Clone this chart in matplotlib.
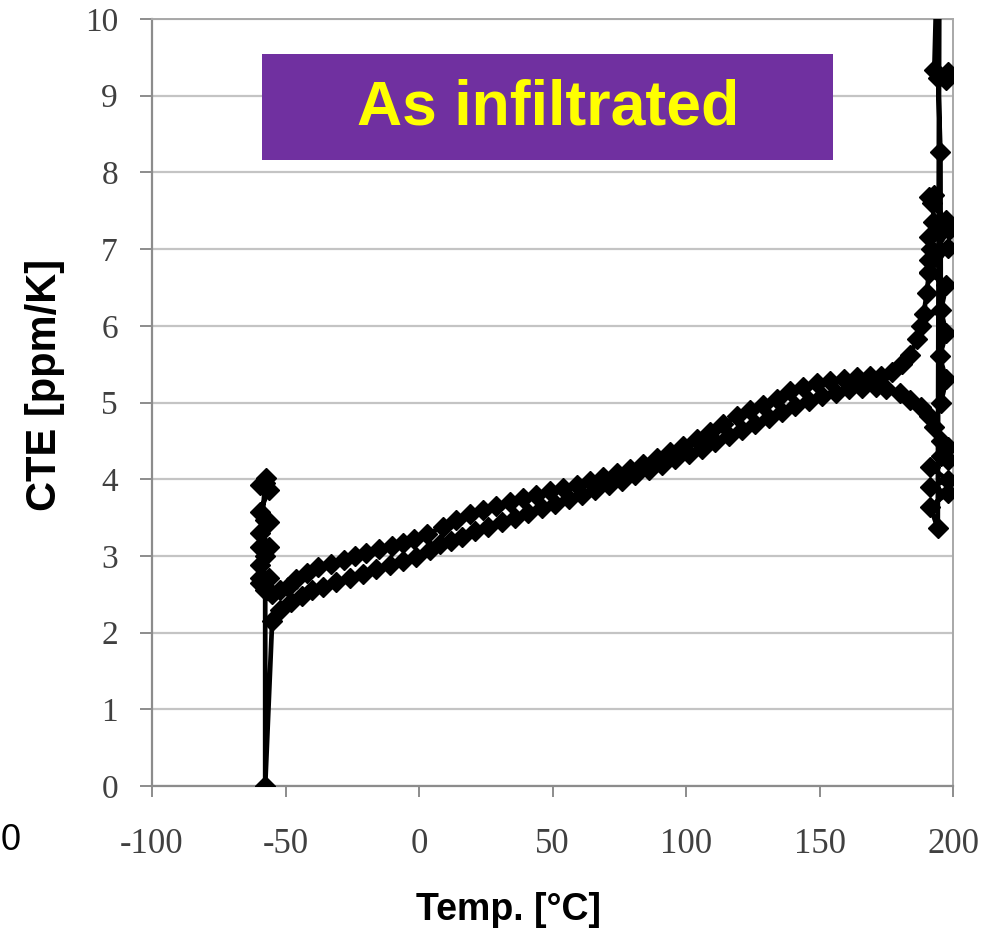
import matplotlib
matplotlib.use("Agg")
import matplotlib.pyplot as plt
from matplotlib.patches import Rectangle

plt.rcParams["axes.unicode_minus"] = False

# ---------------- data ----------------
# noisy start near -58 °C
spike_a_x = [-57.3, -59.6, -56.3, -59.6, -57.8, -56.3, -59.6, -57.8, -59.6, -56.3, -59.6, -57.6, -57.6]
spike_a_y = [4.02, 3.92, 3.86, 3.57, 3.47, 3.44, 3.30, 3.12, 2.88, 2.71, 2.65, 2.56, 0.0]

# heating branch (lower)
low_x = [-55, -52, -48, -44, -40, -36, -31, -26, -21, -16, -11, -6, -1, 4, 8, 12, 16, 21, 26, 31,
         36, 41, 46, 51, 56, 61, 66, 71, 76, 81, 86, 91, 96, 101, 106, 111, 116, 121, 126, 131,
         136, 141, 146, 151, 156, 161, 166, 171, 175, 180, 184, 188, 191, 193]
low_y = [2.15, 2.30, 2.40, 2.48, 2.55, 2.60, 2.66, 2.71, 2.77, 2.83, 2.88, 2.93, 2.99, 3.08, 3.15, 3.20, 3.25, 3.32, 3.38, 3.44,
         3.50, 3.56, 3.62, 3.68, 3.74, 3.80, 3.86, 3.92, 3.98, 4.05, 4.12, 4.19, 4.26, 4.33, 4.40, 4.48, 4.56, 4.64, 4.72, 4.80,
         4.88, 4.95, 5.02, 5.08, 5.13, 5.17, 5.19, 5.20, 5.17, 5.12, 5.03, 4.94, 4.82, 4.68]

# spike near 195 °C
spike_r_x = [195.5, 198.0, 195.5, 198.0, 191.5, 198.0, 191.5, 198.0, 191.5, 194.3, 195.0, 193.0, 198.0, 197.5, 194.4,
             195.3, 195.5, 197.5, 195.0, 197.5, 195.5, 197.5, 191.0, 198.0, 191.0, 198.5, 191.0, 197.5, 192.0, 191.0]
spike_r_y = [4.50, 4.42, 4.30, 4.25, 4.16, 3.99, 3.90, 3.82, 3.64, 3.36, 12.0, 9.33, 9.31, 9.20, 9.23,
             8.27, 5.00, 5.30, 5.60, 5.90, 6.20, 6.53, 6.69, 7.01, 6.86, 7.25, 7.16, 7.38, 7.60, 7.68]

# cooling branch (upper)
up_x = [193, 192.5, 191.7, 191, 190.2, 189, 188, 186.5, 184, 181, 177, 173, 169, 164, 159, 154, 149, 144, 139, 134,
        129, 124, 119, 114, 109, 104, 99, 94, 89, 84, 79, 74, 69, 64, 59, 54, 49, 44, 39, 34,
        29, 24, 19, 14, 9, 3, -2, -6, -10, -15, -20, -24, -28, -33, -38, -42, -46, -49, -52, -55]
up_y = [7.70, 7.35, 7.00, 6.70, 6.43, 6.15, 6.00, 5.83, 5.62, 5.50, 5.40, 5.35, 5.35, 5.33, 5.30, 5.28, 5.25, 5.20, 5.15, 5.05,
        4.97, 4.90, 4.82, 4.72, 4.62, 4.52, 4.43, 4.35, 4.27, 4.20, 4.13, 4.08, 4.03, 3.98, 3.93, 3.88, 3.84, 3.80, 3.75, 3.70,
        3.65, 3.60, 3.55, 3.47, 3.38, 3.28, 3.22, 3.17, 3.13, 3.09, 3.04, 3.00, 2.95, 2.90, 2.85, 2.78, 2.70, 2.60, 2.55, 2.50]

# end back near -58 °C
spike_b_x = [-57.0, -59.6, -57.6, -56.3, -59.6, -57.6]
spike_b_y = [2.56, 2.71, 3.00, 3.12, 3.12, 3.95]

x_ticks = [-100, -50, 0, 50, 100, 150, 200]
y_ticks = list(range(0, 11))

temp = spike_a_x + low_x + spike_r_x + up_x + spike_b_x
cte = spike_a_y + low_y + spike_r_y + up_y + spike_b_y

# ---------------- figure ----------------
W, H = 997, 936
fig = plt.figure(figsize=(W / 100, H / 100), dpi=100)
ax = fig.add_axes([152 / W, (H - 786) / H, 801 / W, 767 / H])

ax.plot(temp, cte, color="black", lw=3.4, marker="D", ms=10.5, mfc="black", mec="black",
        solid_joinstyle="round", zorder=3)

ax.set_xlim(-100, 200)
ax.set_ylim(0, 10)
ax.set_xticks(x_ticks)
ax.set_yticks(y_ticks)
ax.grid(axis="y", color="#c4c4c4", lw=1.6, zorder=0)
ax.set_axisbelow(True)

for side in ["left", "bottom"]:
    ax.spines[side].set_color("#8c8c8c")
    ax.spines[side].set_linewidth(1.6)
for side in ["top", "right"]:
    ax.spines[side].set_color("#a8a8a8")
    ax.spines[side].set_linewidth(1.4)

serif = ["Liberation Serif", "DejaVu Serif"]
ax.tick_params(axis="y", direction="out", length=8.5, width=1.4, color="#8c8c8c",
               pad=16, labelsize=24, labelcolor="#404040")
ax.tick_params(axis="x", direction="out", length=8, width=1.4, color="#8c8c8c",
               pad=22, labelsize=25, labelcolor="#404040")
for lab in ax.get_xticklabels() + ax.get_yticklabels():
    lab.set_fontfamily(serif)

sans = ["Liberation Sans", "DejaVu Sans"]
fig.text(45 / W, 1 - 385 / H, "CTE [ppm/K]", rotation=90, ha="center", va="center",
         fontsize=30, fontweight="bold", family=sans, color="black")
fig.text(508 / W, 1 - 910 / H, "Temp. [°C]", ha="center", va="center",
         fontsize=27, fontweight="bold", family=sans, color="black")

# cropped remnant of neighbouring chart label
fig.text(11 / W, 1 - 840 / H, "0", ha="center", va="center", fontsize=26, family=sans, color="black")

# title box
fig.patches.append(Rectangle((262 / W, 1 - 160 / H), 571 / W, 106 / H, transform=fig.transFigure,
                             facecolor="#7030A0", edgecolor="none", zorder=5))
fig.text(548 / W, 1 - 108 / H, "As infiltrated", ha="center", va="center", fontsize=45,
         fontweight="bold", family=sans, color="#FFFF00", zorder=6)

fig.savefig("out.png", dpi=100)
